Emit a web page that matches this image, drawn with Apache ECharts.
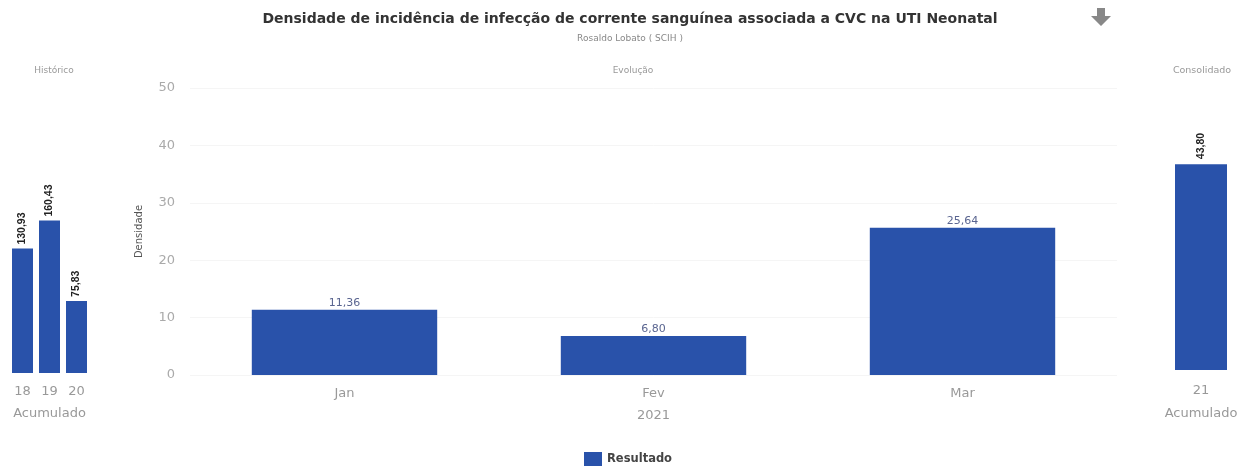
<!DOCTYPE html>
<html>
<head>
<meta charset="utf-8">
<script src="https://cdn.jsdelivr.net/npm/echarts@6/dist/echarts.min.js"></script>
<style>html,body{margin:0;padding:0;background:#fff}#c{width:1255px;height:467px}</style>
</head>
<body>
<div id="c"></div>
<script>
const histCategories = ['18', '19', '20'];
const histValues = [130.93, 160.43, 75.83];
const monthCategories = ['Jan', 'Fev', 'Mar'];
const monthValues = [11.36, 6.80, 25.64];
const consCategories = ['21'];
const consValues = [43.80];
const yTicks = [0, 10, 20, 30, 40, 50];

const FONT = '"DejaVu Sans", Verdana, sans-serif';
const BOLDLBL = '"Liberation Sans", Arial, sans-serif';
const BLUE = '#2952aa';
const fmt = v => v.toFixed(2).replace('.', ',');

const chart = echarts.init(document.getElementById('c'), null, {renderer: 'canvas'});
chart.setOption({
  animation: false,
  textStyle: {fontFamily: FONT},
  title: [
    {text: 'Densidade de incidência de infecção de corrente sanguínea associada a CVC na UTI Neonatal',
     subtext: 'Rosaldo Lobato ( SCIH )', left: 625, textAlign: 'center', top: 7, itemGap: 8,
     textStyle: {fontSize: 14, fontWeight: 'bold', color: '#333', fontFamily: FONT},
     subtextStyle: {fontSize: 9, color: '#888', fontFamily: FONT}},
    {text: 'Histórico', left: 49, textAlign: 'center', top: 61, textStyle: {fontSize: 9, fontWeight: 'normal', color: '#999', fontFamily: FONT}},
    {text: 'Evolução', left: 628, textAlign: 'center', top: 61, textStyle: {fontSize: 9, fontWeight: 'normal', color: '#999', fontFamily: FONT}},
    {text: 'Consolidado', left: 1197, textAlign: 'center', top: 61, textStyle: {fontSize: 9.5, fontWeight: 'normal', color: '#999', fontFamily: FONT}}
  ],
  legend: {
    data: ['Resultado'], left: 579, top: 447, itemWidth: 18, itemHeight: 14, icon: 'rect', itemGap: 6,
    textStyle: {fontSize: 11.5, fontWeight: 'bold', color: '#444', fontFamily: FONT}
  },
  grid: [
    {left: 9, width: 81, top: 88, bottom: 94},
    {left: 190, right: 138, top: 88, bottom: 92},
    {left: 1168, width: 66, top: 88, bottom: 97}
  ],
  xAxis: [
    {type: 'category', gridIndex: 0, data: histCategories, axisLine: {show: false}, axisTick: {show: false},
     axisLabel: {color: '#999', fontSize: 13, margin: 12},
     name: 'Acumulado', nameLocation: 'middle', nameGap: 34, nameTextStyle: {color: '#999', fontSize: 13}},
    {type: 'category', gridIndex: 1, data: monthCategories, axisLine: {show: false}, axisTick: {show: false},
     axisLabel: {color: '#999', fontSize: 13, margin: 12},
     name: '2021', nameLocation: 'middle', nameGap: 34, nameTextStyle: {color: '#999', fontSize: 13}},
    {type: 'category', gridIndex: 2, data: consCategories, axisLine: {show: false}, axisTick: {show: false},
     axisLabel: {color: '#999', fontSize: 13, margin: 14},
     name: 'Acumulado', nameLocation: 'middle', nameGap: 37, nameTextStyle: {color: '#999', fontSize: 13}}
  ],
  yAxis: [
    {type: 'value', gridIndex: 0, min: 0, max: 300, show: false},
    {type: 'value', gridIndex: 1, min: yTicks[0], max: yTicks[yTicks.length - 1], interval: 10,
     axisLine: {show: false}, axisTick: {show: false},
     axisLabel: {color: '#aaa', fontSize: 13, margin: 15},
     splitLine: {lineStyle: {color: '#f5f5f5'}},
     name: 'Densidade', nameLocation: 'middle', nameGap: 46, nameRotate: 90,
     nameTextStyle: {color: '#555', fontSize: 10, fontFamily: FONT}},
    {type: 'value', gridIndex: 2, min: 0, max: 60, show: false}
  ],
  series: [
    {name: 'Resultado', type: 'bar', xAxisIndex: 0, yAxisIndex: 0, data: histValues, barWidth: 21,
     itemStyle: {color: BLUE},
     label: {show: true, position: 'top', rotate: 90, align: 'left', verticalAlign: 'middle', distance: 4,
             fontSize: 10.5, fontWeight: 'bold', color: '#222', fontFamily: BOLDLBL, formatter: p => fmt(p.value)}},
    {name: 'Resultado', type: 'bar', xAxisIndex: 1, yAxisIndex: 1, data: monthValues, barWidth: '60%',
     itemStyle: {color: BLUE},
     label: {show: true, position: 'top', distance: 1, fontSize: 11, color: '#5a6590', fontFamily: FONT, formatter: p => fmt(p.value)}},
    {name: 'Resultado', type: 'bar', xAxisIndex: 2, yAxisIndex: 2, data: consValues, barWidth: 52,
     itemStyle: {color: BLUE},
     label: {show: true, position: 'top', rotate: 90, align: 'left', verticalAlign: 'middle', distance: 5,
             fontSize: 10.5, fontWeight: 'bold', color: '#222', fontFamily: BOLDLBL, formatter: p => fmt(p.value)}}
  ],
  graphic: [
    {type: 'polygon', left: 1091, top: 8,
     shape: {points: [[5, 0], [13, 0], [13, 8], [19, 8], [9, 18], [-1, 8], [5, 8]]},
     style: {fill: '#888'}}
  ]
});
</script>
</body>
</html>
